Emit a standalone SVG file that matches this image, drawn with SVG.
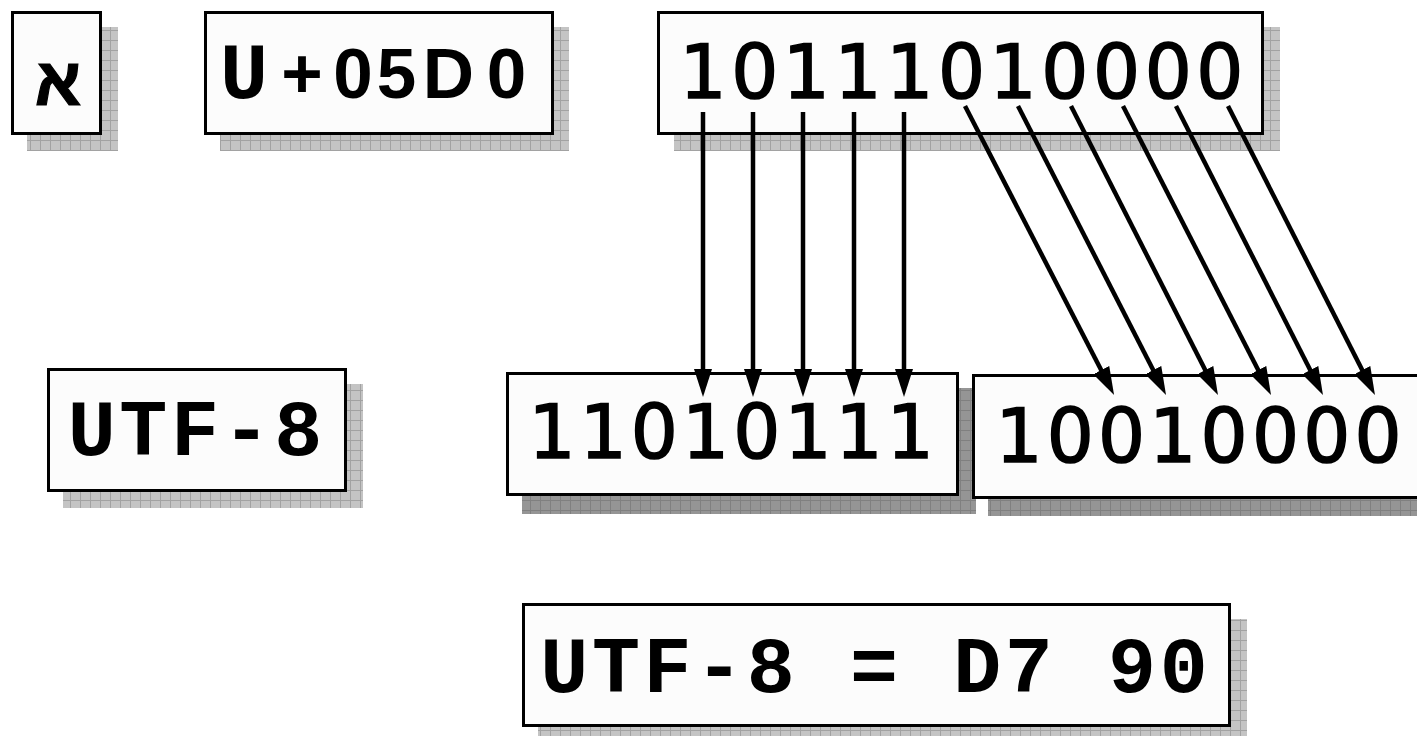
<svg xmlns="http://www.w3.org/2000/svg" width="1417" height="736" viewBox="0 0 1417 736">
<style>
.box{fill:#fcfcfc;stroke:#000;stroke-width:3}
.sh1{fill:url(#hatchL)}
.sh2{fill:url(#hatchD)}
.mono{font-family:"Liberation Mono","DejaVu Sans Mono",monospace;font-weight:bold;font-size:80px;letter-spacing:3.6px;fill:#000}
.bin{font-family:"DejaVu Sans",sans-serif;font-weight:normal;font-size:74px;fill:#000;stroke:#000;stroke-width:1.6}
.arr{stroke:#000;stroke-width:4.5;fill:none;marker-end:url(#ah)}
</style>
<defs>
<pattern id="hatchL" patternUnits="userSpaceOnUse" width="10" height="10">
<rect width="10" height="10" fill="#c4c4c4"/>
<path d="M0,0.5H10M0.5,0V10" stroke="#a2a2a2" stroke-width="1"/>
</pattern>
<pattern id="hatchD" patternUnits="userSpaceOnUse" width="10" height="10">
<rect width="10" height="10" fill="#959595"/>
<path d="M0,0.5H10M0.5,0V10" stroke="#808080" stroke-width="1"/>
</pattern>
<marker id="ah" markerUnits="userSpaceOnUse" markerWidth="30" markerHeight="20" refX="8" refY="9" orient="auto">
<path d="M0,0L28,9L0,18z" fill="#000"/>
</marker>
</defs>

<g id="alef">
<rect class="sh1" x="27" y="27" width="91" height="124"/>
<rect class="box" x="12.5" y="12.5" width="88" height="121"/>
<text x="58" y="105" text-anchor="middle" font-family="Liberation Sans,DejaVu Sans,sans-serif" font-weight="bold" font-size="68" stroke="#000" stroke-width="1.2">א</text>
</g>

<g id="codepoint">
<rect class="sh1" x="220" y="27" width="349" height="124"/>
<rect class="box" x="205.5" y="12.5" width="347" height="121"/>
<text x="244" y="98" text-anchor="middle" font-family="Liberation Mono,monospace" font-weight="bold" font-size="80">U</text>
<text x="302 353 396.5 448.5 506.5" y="98" text-anchor="middle" font-family="Liberation Sans,Arial,sans-serif" font-weight="bold" font-size="71">+05D0</text>
</g>

<g id="bits">
<rect class="sh1" x="674" y="27" width="606" height="124"/>
<rect class="box" x="658.5" y="12.5" width="604" height="121"/>
<text class="bin" x="679.5" y="98" letter-spacing="4.6">10111010000</text>
</g>

<g id="utf8label">
<rect class="sh1" x="63" y="384" width="300" height="124"/>
<rect class="box" x="48.5" y="369.5" width="297" height="121"/>
<text class="mono" x="196.8" y="455" text-anchor="middle">UTF-8</text>
</g>

<g id="byte1">
<rect class="sh2" x="522" y="388" width="454" height="126"/>
<rect class="box" x="507.5" y="373.5" width="450" height="121"/>
<text class="bin" x="528.5" y="458" letter-spacing="4.1">11010111</text>
</g>

<g id="byte2">
<rect class="sh2" x="988" y="391" width="440" height="125"/>
<rect class="box" x="973.5" y="375.5" width="460" height="122"/>
<text class="bin" x="995.5" y="462" letter-spacing="4.2">10010000</text>
</g>

<g id="result">
<rect class="sh1" x="538" y="619" width="709" height="124"/>
<rect class="box" x="523.5" y="604.5" width="706" height="121"/>
<text class="mono" x="875.8" y="692" text-anchor="middle">UTF-8 = D7 90</text>
</g>

<g id="connectors">
<line class="arr" x1="703" y1="112" x2="703" y2="377"/>
<line class="arr" x1="753" y1="112" x2="753" y2="377"/>
<line class="arr" x1="803" y1="112" x2="803" y2="377"/>
<line class="arr" x1="854" y1="112" x2="854" y2="377"/>
<line class="arr" x1="904" y1="112" x2="904" y2="377"/>
<line class="arr" x1="965" y1="106" x2="1104.9" y2="377.2"/>
<line class="arr" x1="1018" y1="106" x2="1156.9" y2="377.2"/>
<line class="arr" x1="1071" y1="106" x2="1208.9" y2="377.2"/>
<line class="arr" x1="1123" y1="106" x2="1261.9" y2="377.2"/>
<line class="arr" x1="1176" y1="106" x2="1313.9" y2="377.2"/>
<line class="arr" x1="1228" y1="106" x2="1365.9" y2="377.2"/>
</g>
</svg>
